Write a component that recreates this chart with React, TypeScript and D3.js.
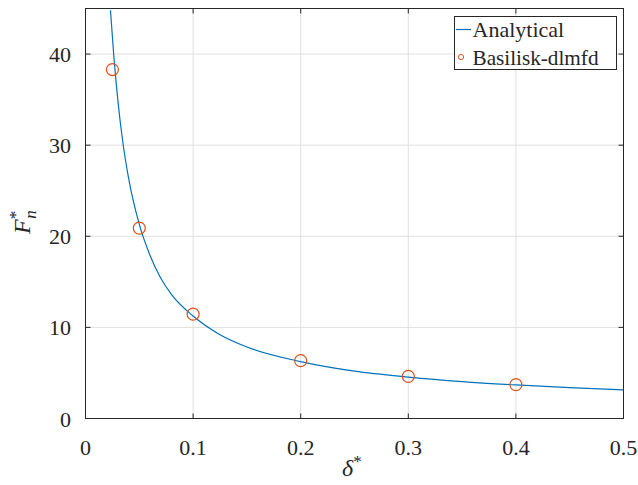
import React from "react";
import * as d3 from "d3";

// Analytical curve, points (delta*, F*_n)
const curveDelta = [0.0232, 0.0263, 0.03, 0.0346, 0.04, 0.05, 0.06, 0.07, 0.08, 0.1, 0.125, 0.15, 0.2, 0.25, 0.3, 0.35, 0.4, 0.45, 0.5];
const curveF = [44.8, 39.8, 35.0, 30.4, 26.4, 21.3, 17.9, 15.4, 13.6, 11.25, 9.2, 7.85, 6.25, 5.2, 4.55, 4.05, 3.68, 3.38, 3.14];

// Basilisk-dlmfd simulation points
const simDelta = [0.025, 0.05, 0.1, 0.2, 0.3, 0.4];
const simF = [38.3, 20.9, 11.45, 6.35, 4.63, 3.72];

const xTicks = [0, 0.1, 0.2, 0.3, 0.4, 0.5];
const yTicks = [0, 10, 20, 30, 40];
const seriesNames = ["Analytical", "Basilisk-dlmfd"];

const W = 638, H = 485;
const L = 85.5, R = 623.5, T = 8.5, B = 418.5;
const AX = "#262626";
const FONT = "'Liberation Serif', 'DejaVu Serif', 'Times New Roman', serif";

export default function App() {
  const x = d3.scaleLinear().domain([0, 0.5]).range([L, R]);
  const y = d3.scaleLinear().domain([0, 45]).range([B, T]);
  const pts: [number, number][] = curveDelta.map((d, i) => [d, curveF[i]]);
  const line = d3
    .line<[number, number]>()
    .x((d) => x(d[0]))
    .y((d) => y(d[1]))
    .curve(d3.curveMonotoneX);
  const tl = 5;
  const ts = { fontFamily: FONT };
  return (
    <svg width={W} height={H} style={{ position: "absolute", left: 0, top: 0, fontFamily: FONT }}>
      <rect x={0} y={0} width={W} height={H} fill="#fff" />
      <defs>
        <clipPath id="plot">
          <rect x={L} y={T} width={R - L} height={B - T} />
        </clipPath>
      </defs>
      {/* grid */}
      {xTicks.slice(1, -1).map((t) => (
        <line key={"gx" + t} x1={x(t)} x2={x(t)} y1={T} y2={B} stroke="#e0e0e0" strokeWidth={1} />
      ))}
      {yTicks.slice(1).map((t) => (
        <line key={"gy" + t} x1={L} x2={R} y1={y(t)} y2={y(t)} stroke="#e0e0e0" strokeWidth={1} />
      ))}
      {/* data */}
      <g clipPath="url(#plot)">
        <path d={line(pts) || ""} fill="none" stroke="#0072BD" strokeWidth={1.2} />
      </g>
      {simDelta.map((d, i) => (
        <circle key={"c" + i} cx={x(d)} cy={y(simF[i])} r={6} fill="none" stroke="#D95319" strokeWidth={1.2} />
      ))}
      {/* axes box */}
      <rect x={L} y={T} width={R - L} height={B - T} fill="none" stroke={AX} strokeWidth={1} />
      {xTicks.map((t) => (
        <g key={"tx" + t}>
          <line x1={x(t)} x2={x(t)} y1={B} y2={B - tl} stroke={AX} />
          <line x1={x(t)} x2={x(t)} y1={T} y2={T + tl} stroke={AX} />
          <text x={x(t)} y={455} textAnchor="middle" fontSize={22} fill={AX} style={ts}>
            {String(t)}
          </text>
        </g>
      ))}
      {yTicks.map((t) => (
        <g key={"ty" + t}>
          <line x1={L} x2={L + tl} y1={y(t)} y2={y(t)} stroke={AX} />
          <line x1={R} x2={R - tl} y1={y(t)} y2={y(t)} stroke={AX} />
          <text x={71} y={y(t) + 8} textAnchor="end" fontSize={22} fill={AX} style={ts}>
            {String(t)}
          </text>
        </g>
      ))}
      {/* axis labels */}
      <text x={342} y={476} fontSize={24} fill={AX} style={ts}>
        <tspan fontStyle="italic">δ</tspan>
        <tspan fontSize={17} dy={-9}>*</tspan>
      </text>
      <text transform="translate(30,234) rotate(-90)" fontSize={24} fill={AX} style={ts}>
        <tspan fontStyle="italic">F</tspan>
        <tspan fontSize={17} dy={-9}>*</tspan>
        <tspan fontSize={17} fontStyle="italic" dx={-8} dy={15}>n</tspan>
      </text>
      {/* legend */}
      <rect x={454.5} y={16.5} width={162} height={53} fill="#fff" stroke={AX} strokeWidth={1} />
      <line x1={456} x2={471} y1={29.5} y2={29.5} stroke="#0072BD" strokeWidth={1.2} />
      <text x={472.5} y={37} fontSize={22} fill={AX} style={ts}>{seriesNames[0]}</text>
      <circle cx={461} cy={57} r={2.6} fill="none" stroke="#D95319" strokeWidth={1} />
      <text x={472.5} y={64.5} fontSize={22} fill={AX} style={ts} textLength={126} lengthAdjust="spacingAndGlyphs">{seriesNames[1]}</text>
    </svg>
  );
}
